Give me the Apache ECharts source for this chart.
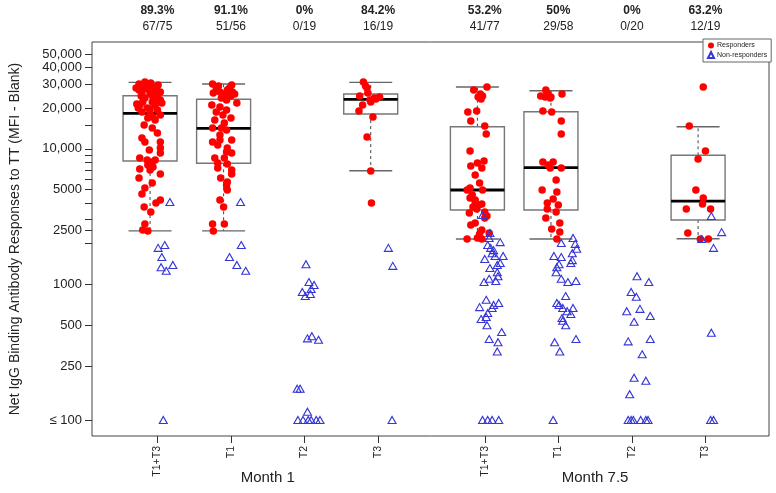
<!DOCTYPE html>
<html><head><meta charset="utf-8">
<script src="https://cdn.jsdelivr.net/npm/echarts@6/dist/echarts.min.js"></script>
<style>html,body{margin:0;padding:0;background:#fff}#c{width:776px;height:493px}</style>
</head><body><div id="c"></div>
<script>
// ---------- data ----------
const categories = ['T1+T3','T1','T2','T3','T1+T3','T1','T2','T3'];
const catPos = [1, 2, 3, 4, 5.45, 6.45, 7.45, 8.45];
const months = ['Month 1', 'Month 7.5'];
const monthPos = [2.5, 6.95];
const pctLabels = ['89.3%','91.1%','0%','84.2%','53.2%','50%','0%','63.2%'];
const fracLabels = ['67/75','51/56','0/19','16/19','41/77','29/58','0/20','12/19'];
const yTickValues = [100, 250, 500, 1000, 2500, 5000, 10000, 20000, 30000, 40000, 50000];
const yTickLabels = ['\u2264 100','250','500','1000','2500','5000','10,000','20,000','30,000','40,000','50,000'];
const yMinorTicks = [2000, 3000, 4000, 6000, 7000, 8000, 9000, 15000];

// box statistics: [group, low whisker, Q1, median, Q3, high whisker]
const boxStats = [
  [0, 2480, 8130, 18270, 24650, 30900],
  [1, 2480, 7820, 14160, 23180, 30060],
  [3, 6890, 18050, 23180, 25360, 30900],
  [4, 2160, 3540, 4970, 14560, 28570],
  [5, 2160, 3540, 7260, 18770, 26840],
  [7, 2170, 2985, 4120, 8954, 14560]
];

// points: [horizontal jitter (axis units), value]
const respM1_T1T3 = [[-0.15,30050],[0.01,30570],[-0.10,28560],[0.04,28560],[-0.15,27140],[-0.03,27610],[0.07,26690],[-0.11,25790],[0,25360],[0.10,24940],[-0.07,23700],[0.04,24100],[0.14,22910],[0.16,21770],[-0.14,21040],[-0.10,22140],[0.03,22140],[0.07,21040],[-0.16,20000],[-0.04,20000],[-0.11,18690],[0.10,19330],[0,18370],[0.14,17760],[0.04,17160],[-0.03,16870],[0.07,16310],
  [0.03,14230],[-0.11,12010],[-0.07,11220],[0.14,11220],[-0.01,9800],[0.14,10140],[0.14,9310],[-0.14,8550],[-0.04,8270],[0.03,8000],[0.07,8270],[-0.03,7600],[0.04,7340],[-0.14,7100],[0,6980],[0.14,6520],[0.03,5600],[-0.07,5140],[-0.11,4640],[0.14,4190],[0.08,3980],[-0.08,3720],[-0.07,2790],[-0.03,2480],
  [-0.07,31090],[0.11,29540],[-0.19,28070],[0.14,26240],[-0.04,29040],[-0.12,24520],[0.08,28070],[0,29540],[0.11,23300],[-0.18,21410],[0,19660],[-0.08,14980],[0.10,13080],[-0.15,6090],[0.01,3420],[-0.10,2520]];
const nonM1_T1T3 = [[0.27,4050],[0.20,1950],[0.11,1860],[0.16,1590],[0.31,1390],[0.15,1340],[0.22,1260],[0.18,100]];

const respM1_T1 = [[-0.15,30050],[0.11,29540],[-0.10,28070],[0.08,28070],[0.12,26240],[-0.05,26240],[0.01,24940],[-0.03,23700],[0.04,22910],[0.18,21770],[-0.05,20340],[-0.10,18690],[0.04,19330],[-0.01,17760],[-0.12,16310],[0.01,15500],[-0.03,14230],[-0.15,14230],[0.04,13760],[-0.15,11220],[-0.05,11610],[0.11,11610],[0.05,10140],[0.04,9470],[0.11,9310],[-0.12,8550],[0.01,8550],[-0.08,7860],[0.05,7730],[-0.08,7220],[0.11,6980],[0.11,6520],[0.05,5690],[0.04,5410],[0.05,4970],[-0.05,4190],[0,3720],[-0.15,2790],[0.01,2790],[-0.14,2480],
  [-0.07,29040],[0.05,27140],[-0.14,25790],[0.10,24520],[0,24100],[-0.16,21040],[0.10,16870],[-0.05,12640],[-0.08,10670],[-0.04,6090],[0.15,25360]];
const nonM1_T1 = [[0.23,4050],[0.24,1950],[0.08,1590],[0.18,1390],[0.30,1260]];

const respM1_T2 = [];
const nonM1_T2 = [[0.12,1410],[0.16,1040],[0.23,990],[0.19,925],[0.07,880],[0.18,850],[0.11,820],[0.20,415],[0.14,400],[0.29,390],[0,170],[0.04,170],[0.01,100],[0.08,100],[0.14,115],[0.19,100],[0.26,100],[0.31,100],[0.15,100]];

const respM1_T3 = [[-0.10,31090],[-0.05,28070],[-0.04,25790],[-0.15,24520],[0.12,24100],[0.05,23700],[0,22140],[-0.11,21040],[-0.16,19010],[0.03,17160],[-0.05,12220],[0,6860],[0.01,3980],[-0.07,29040],[-0.01,22910],[0.07,23300]];
const nonM1_T3 = [[0.24,1860],[0.30,1370],[0.29,100]];

const respM75_T1T3 = [[0.13,28560],[-0.05,27140],[0.04,25360],[0.07,24520],[0.01,24100],[0.05,23300],[-0.01,19010],[-0.13,18690],[-0.09,16030],[0.10,14730],[0.12,12860],[-0.10,9630],[0.09,8130],[0,7860],[-0.09,7470],[0.06,7220],[-0.03,6410],[0.03,5600],[-0.10,5140],[-0.14,4970],[0.07,4970],[-0.07,4560],[-0.10,4340],[-0.03,4190],[-0.03,4050],[0.06,3920],[0.02,3850],[-0.06,3720],[-0.01,3600],[0.10,3420],[-0.11,3360],[0.13,3190],[0.10,3090],[-0.03,2840],[-0.09,2740],[0.06,2520],[0.16,2390],[0.03,2350],[0,2200],[-0.14,2160],[0.06,2160]];
const nonM75_T1T3 = [[0.07,3250],[0.17,2390],[0.16,2200],[0.31,2050],[0.14,1950],[0.18,1860],[0.20,1700],[0.35,1620],[0.24,1620],[0.10,1540],[0.31,1440],[0.27,1390],[0.27,1230],[0.09,1040],[0.16,1100],[0.25,1060],[0.03,680],[0.29,730],[0.22,705],[0.20,670],[0.14,615],[0.05,555],[0.12,575],[0.13,500],[0.33,445],[0.16,395],[0.28,375],[0.27,320],[0.07,100],[0.14,100],[0.20,100],[0.29,100],[0.22,1790],[0.17,1320],[0.28,1150],[0.12,770]];

const respM75_T1 = [[-0.07,27140],[-0.04,25360],[0.15,25360],[-0.14,24520],[0,24100],[-0.08,24100],[-0.01,23700],[-0.11,19010],[0.01,18690],[0.14,16030],[0.14,12860],[-0.11,8000],[0.03,8000],[-0.04,7600],[-0.01,7220],[0.14,7220],[0.07,5890],[-0.12,4970],[0.08,4800],[0.03,4260],[-0.05,3980],[0.10,3850],[-0.05,3600],[0.07,3420],[-0.07,3090],[0.12,2840],[0.01,2560],[0.12,2430],[0.08,2160]];
const nonM75_T1 = [[0.30,2200],[0.14,2020],[0.33,1990],[0.35,1830],[0.29,1700],[0.04,1620],[0.14,1590],[0.29,1510],[0.11,1410],[0.27,1440],[0.08,1340],[0.07,1230],[0.14,1100],[0.23,1040],[0.34,1060],[0.20,820],[0.08,730],[0.11,705],[0.16,670],[0.30,670],[0.22,635],[0.27,605],[0.15,565],[0.16,540],[0.20,500],[0.34,395],[0.05,375],[0.12,320],[0.03,100]];

const respM75_T2 = [];
const nonM75_T2 = [[0.17,1150],[0.33,1040],[0.09,880],[0.16,810],[0.03,635],[0.21,660],[0.35,585],[0.13,530],[0.05,380],[0.35,395],[0.24,305],[0.13,205],[0.29,195],[0.07,155],[0.05,100],[0.09,100],[0.12,100],[0.22,100],[0.29,100],[0.32,100]];

const respM75_T3 = [[0.07,28560],[-0.12,14730],[0.10,9630],[0,8410],[-0.03,4970],[0.07,4340],[0.06,3920],[-0.16,3600],[0.17,3600],[-0.14,2390],[0.03,2160],[0.14,2160]];
const nonM75_T3 = [[0.18,3190],[0.32,2430],[0.05,2160],[0.21,1860],[0.18,440],[0.17,100],[0.21,100]];

// ---------- build ----------
const respGroups = [respM1_T1T3, respM1_T1, respM1_T2, respM1_T3, respM75_T1T3, respM75_T1, respM75_T2, respM75_T3];
const nonGroups = [nonM1_T1T3, nonM1_T1, nonM1_T2, nonM1_T3, nonM75_T1T3, nonM75_T1, nonM75_T2, nonM75_T3];
const boxShift = -0.1;
const xMin = 0.111, xMax = 9.314, yMin = 76.2, yMax = 61350;

const respData = [], nonData = [];
respGroups.forEach((g, i) => g.forEach(p => respData.push([catPos[i] + boxShift + p[0], p[1]])));
nonGroups.forEach((g, i) => g.forEach(p => nonData.push([catPos[i] + boxShift + p[0], p[1]])));
const boxData = boxStats.map(b => [catPos[b[0]] + boxShift, b[1], b[2], b[3], b[4], b[5]]);

function idxOf(arr, v) {
  let best = 0, d = Infinity;
  arr.forEach((a, i) => { const dd = Math.abs(a - v); if (dd < d) { d = dd; best = i; } });
  return best;
}
const yLogTicks = yTickValues.map(v => Math.log10(v));
const yLogAll = yTickValues.concat(yMinorTicks).map(v => Math.log10(v));
const FONT = 'Liberation Sans, Arial, Helvetica, sans-serif';

const chart = echarts.init(document.getElementById('c'), null, {renderer: 'canvas'});
const baseX = {type: 'value', min: xMin, max: xMax, splitLine: {show: false}, axisLine: {show: false}};
chart.setOption({
  animation: false,
  backgroundColor: '#fff',
  grid: {left: 92, top: 42, right: 7, bottom: 57, show: true, borderColor: '#444', borderWidth: 1, backgroundColor: 'transparent'},
  legend: {
    data: ['Responders', 'Non-responders'], orient: 'vertical', left: 703, top: 39,
    itemWidth: 6, itemHeight: 6, itemGap: 2, padding: [3, 4, 3, 4],
    backgroundColor: '#fff', borderColor: '#666', borderWidth: 1, borderRadius: 0,
    textStyle: {fontSize: 7, fontFamily: FONT, color: '#222', padding: [0, 0, 0, -2]}
  },
  xAxis: [
    Object.assign({}, baseX, {
      position: 'bottom',
      axisTick: {show: true, inside: false, length: 7, customValues: catPos, lineStyle: {color: '#333'}},
      axisLabel: {show: true, customValues: catPos, rotate: 90, margin: 10, fontSize: 10.5, fontFamily: FONT, color: '#222',
        hideOverlap: false, formatter: v => categories[idxOf(catPos, v)]}
    }),
    Object.assign({}, baseX, {
      position: 'bottom',
      axisTick: {show: false},
      axisLabel: {show: true, customValues: monthPos, margin: 34, fontSize: 15, fontFamily: FONT, color: '#222',
        hideOverlap: false, formatter: v => months[idxOf(monthPos, v)]}
    }),
    Object.assign({}, baseX, {
      position: 'top',
      axisTick: {show: false},
      axisLabel: {show: true, customValues: catPos, margin: 7, fontFamily: FONT, color: '#222', hideOverlap: false,
        formatter: v => { const i = idxOf(catPos, v); return '{p|' + pctLabels[i] + '}\n{f|' + fracLabels[i] + '}'; },
        rich: {p: {fontSize: 12, fontWeight: 'bold', lineHeight: 16, fontFamily: FONT, color: '#222'},
               f: {fontSize: 12, lineHeight: 16, fontFamily: FONT, color: '#222'}}}
    })
  ],
  yAxis: [
    {type: 'log', logBase: 10, min: yMin, max: yMax, axisLine: {show: false}, axisTick: {show: false},
     axisLabel: {show: false}, splitLine: {show: false}, minorTick: {show: false}},
    {type: 'value', min: Math.log10(yMin), max: Math.log10(yMax), position: 'left',
     axisLine: {show: false}, splitLine: {show: false},
     axisTick: {show: true, length: 7, customValues: yLogAll, lineStyle: {color: '#333'}},
     axisLabel: {show: true, customValues: yLogTicks, margin: 10, fontSize: 13, fontFamily: FONT, color: '#222',
       hideOverlap: false, showMinLabel: true, showMaxLabel: true,
       formatter: v => yTickLabels[idxOf(yLogTicks, v)]},
     name: 'Net IgG Binding Antibody Responses to TT (MFI - Blank)', nameLocation: 'middle', nameGap: 70,
     nameTextStyle: {fontSize: 14, fontFamily: FONT, color: '#222'}}
  ],
  series: [
    {
      type: 'custom', name: 'box', xAxisIndex: 0, yAxisIndex: 0, data: boxData, z: 1,
      encode: {x: 0, y: [1, 2, 3, 4, 5]},
      renderItem: function (params, api) {
        const x = api.value(0);
        const lo = api.coord([x, api.value(1)]);
        const q1 = api.coord([x, api.value(2)]);
        const md = api.coord([x, api.value(3)]);
        const q3 = api.coord([x, api.value(4)]);
        const hi = api.coord([x, api.value(5)]);
        const unit = api.size([1, 0], [x, 1000])[0];
        const hb = unit * 0.367, hc = unit * 0.292, cx = lo[0];
        const dash = {stroke: '#444', lineWidth: 1, lineDash: [3, 3], fill: null};
        const cap = {stroke: '#666', lineWidth: 1.4, fill: null};
        return {type: 'group', children: [
          {type: 'line', shape: {x1: cx, y1: q3[1], x2: cx, y2: hi[1]}, style: dash},
          {type: 'line', shape: {x1: cx, y1: q1[1], x2: cx, y2: lo[1]}, style: dash},
          {type: 'line', shape: {x1: cx - hc, y1: hi[1], x2: cx + hc, y2: hi[1]}, style: cap},
          {type: 'line', shape: {x1: cx - hc, y1: lo[1], x2: cx + hc, y2: lo[1]}, style: cap},
          {type: 'rect', shape: {x: cx - hb, y: q3[1], width: 2 * hb, height: q1[1] - q3[1]}, style: {fill: null, stroke: '#777', lineWidth: 1.4}},
          {type: 'line', shape: {x1: cx - hb, y1: md[1], x2: cx + hb, y2: md[1]}, style: {stroke: '#000', lineWidth: 2.8}}
        ]};
      }
    },
    {
      type: 'scatter', name: 'Responders', xAxisIndex: 0, yAxisIndex: 0, data: respData, z: 3,
      symbol: 'circle', symbolSize: 7.5, itemStyle: {color: '#ff0000', opacity: 1}
    },
    {
      type: 'scatter', name: 'Non-responders', xAxisIndex: 0, yAxisIndex: 0, data: nonData, z: 4,
      symbol: 'triangle', symbolSize: [8, 7],
      itemStyle: {color: 'rgba(255,255,255,0)', borderColor: '#3535d8', borderWidth: 1.1, opacity: 1}
    }
  ]
});
</script></body></html>
